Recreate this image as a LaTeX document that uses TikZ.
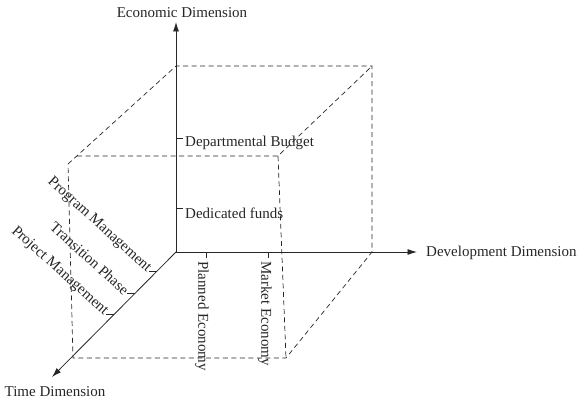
\documentclass[tikz,border=0pt]{standalone}
\usepackage{fontspec}
\setmainfont{Liberation Serif}
\usetikzlibrary{arrows.meta}

\begin{document}
\begin{tikzpicture}[
x=1pt,y=-1pt,
Axis/.style={draw=black!85,line width=0.8pt},
Edges/.style={draw=black!85,line width=0.7pt,dash pattern=on 5pt off 3.5pt},
Ticks/.style={draw=black!85,line width=0.6pt},
every node/.style={font=\fontsize{15}{18}\selectfont,text=black!85,inner sep=0pt}
]
\useasboundingbox (0,0) rectangle (578,403);

% origin and the ends of the three axes
\coordinate (O) at (176,252);
\coordinate (Eco) at (176,22);
\coordinate (Dev) at (417,252);
\coordinate (Tim) at (52,377);

% corners of the box: back face
\coordinate (B1) at (176,66);
\coordinate (B2) at (372,66);
\coordinate (B3) at (372,252);
% front face
\coordinate (F1) at (68,164);
\coordinate (F1a) at (77,156);
\coordinate (F2) at (278,156);
\coordinate (F3) at (286,358);
\coordinate (F4) at (73,358);

\draw[Edges] (F1)--(B1)--(B2)--(B3)--(F3)--(F4)--(F1);
\draw[Edges] (F1a)--(F2)--(B2);
\draw[Edges] (F2)--(F3);

% the axes
\draw[-{Latex[length=9.5pt, width=6pt]}, Axis] (O)--(Eco);
\draw[-{Latex[length=9.5pt, width=6pt]}, Axis] (O)--(Dev);
\draw[-{Latex[length=9.5pt, width=6pt]}, Axis] (O)--(Tim);

\node (econ) at (182,13) {Economic Dimension};
\node[anchor=west] (devel) at (426,253) {Development Dimension};
\node (time) at (55,392) {Time Dimension};

% ticks on the economic axis
\coordinate (e1) at (176,138);
\coordinate (e2) at (176,208);
\draw[Ticks] (e1)--++(7,0);
\draw[Ticks] (e2)--++(7,0);
\node[anchor=west] (budget) at (185,143) {Departmental Budget};
\node[anchor=west] (funds) at (185,213) {Dedicated funds};

% ticks on the development axis
\coordinate (d1) at (206,252);
\coordinate (d2) at (268,252);
\draw[Ticks] (d1)--++(0,6);
\draw[Ticks] (d2)--++(0,6);
\node[rotate=-90,anchor=west] (planned) at (202,261) {Planned Economy};
\node[rotate=-90,anchor=west] (market) at (265,261) {Market Economy};

% ticks on the time axis
\coordinate (t1) at (157,271);
\coordinate (t2) at (135,293);
\coordinate (t3) at (114,314);
\draw[Ticks] (t1)--++(-8,0);
\draw[Ticks] (t2)--++(-8,0);
\draw[Ticks] (t3)--++(-8,0);
\node[rotate=-42,anchor=east] (program) at (149,270) {Program Management};
\node[rotate=-42,anchor=east] (transition) at (127,292) {Transition Phase};
\node[rotate=-42,anchor=east] (project) at (106,313) {Project Management};

\end{tikzpicture}
\end{document}
